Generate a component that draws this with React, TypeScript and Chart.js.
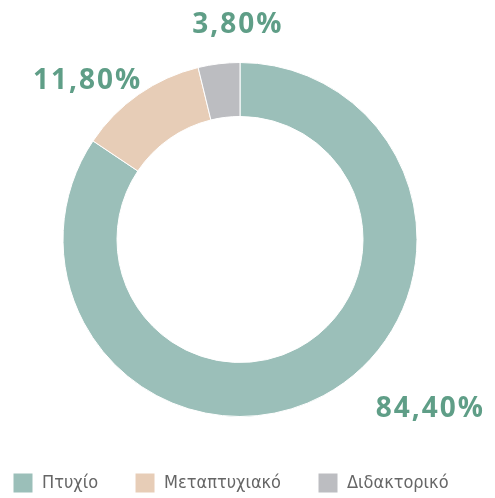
import React, { useEffect, useRef } from "react";
import { Chart, registerables } from "chart.js";

Chart.register(...registerables);

const categories = ["Πτυχίο", "Μεταπτυχιακό", "Διδακτορικό"];
const shares = [84.4, 11.8, 3.8];
const sliceColors = ["#9bbfb9", "#e7cdb7", "#bcbdc1"];
// label nudges (px) from the outer mid-point of each slice
const labelNudges = [
  [106, 12],
  [-52, -14],
  [18, -40],
];

const SHIFT = 24; // canvas is shifted left by this many px
const fmt = (v: number) => v.toFixed(2).replace(".", ",") + "%";

const outsideLabels = {
  id: "outsideLabels",
  afterDatasetsDraw(chart: any) {
    const ctx = chart.ctx;
    const meta = chart.getDatasetMeta(0);
    ctx.save();
    ctx.font = "bold 28px 'Open Sans', 'Liberation Sans', sans-serif";
    ctx.fillStyle = "#5f9e87";
    ctx.textAlign = "center";
    ctx.textBaseline = "middle";
    try {
      (ctx as any).letterSpacing = "2px";
    } catch (e) {}
    meta.data.forEach((arc: any, i: number) => {
      const p = arc.getProps(["x", "y", "startAngle", "endAngle", "outerRadius"], true);
      const mid = (p.startAngle + p.endAngle) / 2;
      const ax = p.x + Math.cos(mid) * p.outerRadius;
      const ay = p.y + Math.sin(mid) * p.outerRadius;
      const [dx, dy] = labelNudges[i];
      ctx.fillText(fmt(shares[i]), ax + dx + 1, ay + dy + 1);
    });
    ctx.restore();
  },
};

export default function App() {
  const ref = useRef<HTMLCanvasElement | null>(null);
  useEffect(() => {
    document.body.style.margin = "0";
    document.body.style.overflow = "hidden";
    const chart = new Chart(ref.current as HTMLCanvasElement, {
      type: "doughnut",
      data: {
        labels: categories,
        datasets: [
          {
            data: shares,
            backgroundColor: sliceColors,
            borderColor: "#ffffff",
            borderWidth: 1,
            hoverOffset: 0,
          },
        ],
      },
      options: {
        responsive: false,
        animation: false,
        radius: 177,
        cutout: "69.5%",
        layout: { padding: { left: 0, right: 0, top: 43, bottom: -5 } },
        plugins: {
          tooltip: { enabled: false },
          legend: {
            position: "bottom",
            align: "start",
            labels: {
              boxWidth: 20,
              boxHeight: 20,
              padding: 37,
              color: "#666666",
              font: { size: 18, family: "'DejaVu Sans Condensed', 'DejaVu Sans', sans-serif" },
            },
          },
        },
      } as any,
      plugins: [outsideLabels],
    });
    return () => chart.destroy();
  }, []);
  return (
    <div style={{ width: 495, height: 498, overflow: "hidden", position: "relative" }}>
      <canvas
        ref={ref}
        width={528}
        height={498}
        style={{ display: "block", position: "absolute", left: -SHIFT, top: 0 }}
      />
    </div>
  );
}
